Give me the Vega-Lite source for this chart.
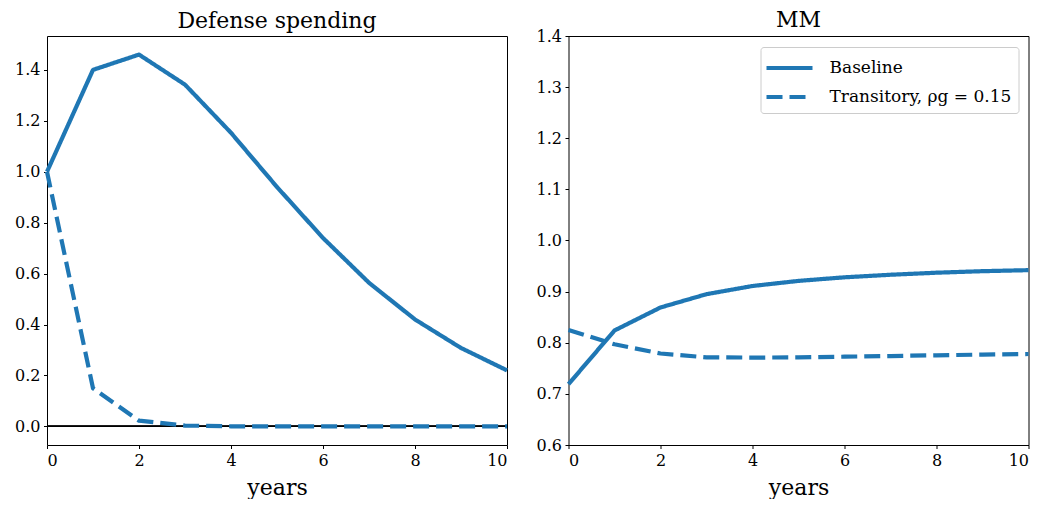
{
  "$schema": "https://vega.github.io/schema/vega-lite/v6.json",
  "background": "white",
  "padding": {"left": 14, "top": 8, "right": 0, "bottom": 0},
  "autosize": {"type": "pad"},
  "bounds": "flush",
  "spacing": 61.5,
  "config": {
    "font": "DejaVu Serif",
    "view": {"stroke": "black", "strokeWidth": 1},
    "axis": {
      "grid": false,
      "domain": false,
      "tickColor": "black",
      "tickSize": 3.5,
      "tickWidth": 1,
      "labelColor": "black",
      "labelFont": "DejaVu Serif",
      "labelFontSize": 16,
      "labelPadding": 3.5,
      "titleFont": "DejaVu Serif",
      "titleFontSize": 22,
      "titleFontWeight": "normal",
      "titleColor": "black",
      "titlePadding": 9
    },
    "title": {"font": "DejaVu Serif", "fontSize": 22, "fontWeight": "normal", "color": "black", "offset": 3}
  },
  "datasets": {
    "irf": [
      {"panel": "Defense spending", "scenario": "Baseline", "year": 0, "value": 1.0},
      {"panel": "Defense spending", "scenario": "Baseline", "year": 1, "value": 1.4},
      {"panel": "Defense spending", "scenario": "Baseline", "year": 2, "value": 1.46},
      {"panel": "Defense spending", "scenario": "Baseline", "year": 3, "value": 1.342},
      {"panel": "Defense spending", "scenario": "Baseline", "year": 4, "value": 1.153},
      {"panel": "Defense spending", "scenario": "Baseline", "year": 5, "value": 0.94},
      {"panel": "Defense spending", "scenario": "Baseline", "year": 6, "value": 0.74},
      {"panel": "Defense spending", "scenario": "Baseline", "year": 7, "value": 0.564},
      {"panel": "Defense spending", "scenario": "Baseline", "year": 8, "value": 0.42},
      {"panel": "Defense spending", "scenario": "Baseline", "year": 9, "value": 0.308},
      {"panel": "Defense spending", "scenario": "Baseline", "year": 10, "value": 0.22},
      {"panel": "Defense spending", "scenario": "Transitory, ρg = 0.15", "year": 0, "value": 1.0},
      {"panel": "Defense spending", "scenario": "Transitory, ρg = 0.15", "year": 1, "value": 0.15},
      {"panel": "Defense spending", "scenario": "Transitory, ρg = 0.15", "year": 2, "value": 0.0225},
      {"panel": "Defense spending", "scenario": "Transitory, ρg = 0.15", "year": 3, "value": 0.0034},
      {"panel": "Defense spending", "scenario": "Transitory, ρg = 0.15", "year": 4, "value": 0.0005},
      {"panel": "Defense spending", "scenario": "Transitory, ρg = 0.15", "year": 5, "value": 0.0001},
      {"panel": "Defense spending", "scenario": "Transitory, ρg = 0.15", "year": 6, "value": 0.0},
      {"panel": "Defense spending", "scenario": "Transitory, ρg = 0.15", "year": 7, "value": 0.0},
      {"panel": "Defense spending", "scenario": "Transitory, ρg = 0.15", "year": 8, "value": 0.0},
      {"panel": "Defense spending", "scenario": "Transitory, ρg = 0.15", "year": 9, "value": 0.0},
      {"panel": "Defense spending", "scenario": "Transitory, ρg = 0.15", "year": 10, "value": 0.0},
      {"panel": "MM", "scenario": "Baseline", "year": 0, "value": 0.719},
      {"panel": "MM", "scenario": "Baseline", "year": 1, "value": 0.824},
      {"panel": "MM", "scenario": "Baseline", "year": 2, "value": 0.869},
      {"panel": "MM", "scenario": "Baseline", "year": 3, "value": 0.895},
      {"panel": "MM", "scenario": "Baseline", "year": 4, "value": 0.911},
      {"panel": "MM", "scenario": "Baseline", "year": 5, "value": 0.921},
      {"panel": "MM", "scenario": "Baseline", "year": 6, "value": 0.928},
      {"panel": "MM", "scenario": "Baseline", "year": 7, "value": 0.933},
      {"panel": "MM", "scenario": "Baseline", "year": 8, "value": 0.937},
      {"panel": "MM", "scenario": "Baseline", "year": 9, "value": 0.94},
      {"panel": "MM", "scenario": "Baseline", "year": 10, "value": 0.942},
      {"panel": "MM", "scenario": "Transitory, ρg = 0.15", "year": 0, "value": 0.825},
      {"panel": "MM", "scenario": "Transitory, ρg = 0.15", "year": 1, "value": 0.797},
      {"panel": "MM", "scenario": "Transitory, ρg = 0.15", "year": 2, "value": 0.779},
      {"panel": "MM", "scenario": "Transitory, ρg = 0.15", "year": 3, "value": 0.7715},
      {"panel": "MM", "scenario": "Transitory, ρg = 0.15", "year": 4, "value": 0.771},
      {"panel": "MM", "scenario": "Transitory, ρg = 0.15", "year": 5, "value": 0.7713},
      {"panel": "MM", "scenario": "Transitory, ρg = 0.15", "year": 6, "value": 0.7727},
      {"panel": "MM", "scenario": "Transitory, ρg = 0.15", "year": 7, "value": 0.774},
      {"panel": "MM", "scenario": "Transitory, ρg = 0.15", "year": 8, "value": 0.7755},
      {"panel": "MM", "scenario": "Transitory, ρg = 0.15", "year": 9, "value": 0.7768},
      {"panel": "MM", "scenario": "Transitory, ρg = 0.15", "year": 10, "value": 0.778}
    ]
  },
  "resolve": {"scale": {"strokeDash": "independent", "x": "independent", "y": "independent"}, "legend": {"strokeDash": "independent"}},
  "hconcat": [
    {
      "title": {"text": "Defense spending"},
      "width": 460,
      "height": 409,
      "data": {"name": "irf"},
      "transform": [{"filter": "datum.panel === 'Defense spending'"}],
      "layer": [
        {
          "mark": {"type": "rule", "color": "black", "strokeWidth": 1},
          "encoding": {"y": {"datum": 0, "type": "quantitative", "axis": {"title": null}}}
        },
        {
          "mark": {"type": "line", "color": "#1f77b4", "strokeWidth": 4.2, "strokeJoin": "round"},
          "encoding": {
            "x": {"field": "year", "type": "quantitative", "scale": {"domain": [0, 10], "nice": false}, "axis": {"values": [0, 2, 4, 6, 8, 10], "title": "years"}},
            "y": {"field": "value", "type": "quantitative", "scale": {"domain": [-0.073, 1.533], "nice": false, "zero": false}, "axis": {"values": [0, 0.2, 0.4, 0.6, 0.8, 1, 1.2, 1.4], "format": ".1f", "title": null}},
            "strokeDash": {"field": "scenario", "type": "nominal", "scale": {"domain": ["Baseline", "Transitory, ρg = 0.15"], "range": [[1, 0], [16, 7]]}, "legend": null}
          }
        }
      ]
    },
    {
      "title": {"text": "MM", "dy": 7},
      "width": 460,
      "height": 409,
      "data": {"name": "irf"},
      "transform": [{"filter": "datum.panel === 'MM'"}],
      "mark": {"type": "line", "color": "#1f77b4", "strokeWidth": 4.2, "strokeJoin": "round"},
      "encoding": {
        "x": {"field": "year", "type": "quantitative", "scale": {"domain": [0, 10], "nice": false}, "axis": {"values": [0, 2, 4, 6, 8, 10], "title": "years"}},
        "y": {"field": "value", "type": "quantitative", "scale": {"domain": [0.6, 1.4], "nice": false, "zero": false}, "axis": {"values": [0.6, 0.7, 0.8, 0.9, 1.0, 1.1, 1.2, 1.3, 1.4], "format": ".1f", "title": null}},
        "strokeDash": {
          "field": "scenario",
          "type": "nominal",
          "scale": {"domain": ["Baseline", "Transitory, ρg = 0.15"], "range": [[1, 0], [16, 7]]},
          "legend": {
            "title": null,
            "orient": "top-right",
            "offset": 10.5,
            "padding": 7,
            "strokeColor": "#cccccc",
            "fillColor": "white",
            "cornerRadius": 3,
            "symbolType": "M-2,0H2",
            "symbolSize": 529,
            "symbolStrokeWidth": 4.2,
            "symbolStrokeColor": "#1f77b4",
            "symbolOffset": 8,
            "labelFont": "DejaVu Serif",
            "labelFontSize": 17,
            "labelColor": "black",
            "labelOffset": 26,
            "labelLimit": 400,
            "rowPadding": 6
          }
        }
      }
    }
  ]
}
